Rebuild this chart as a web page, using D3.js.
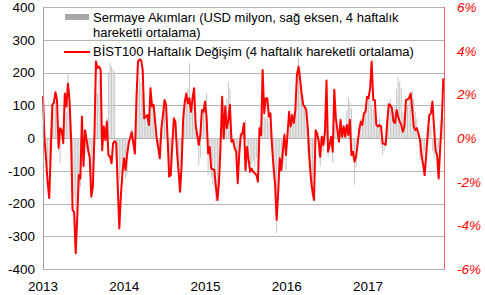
<!DOCTYPE html>
<html>
<head>
<meta charset="utf-8">
<style>
  body { margin: 0; background: #fff; }
  svg { display: block; font-family: "Liberation Sans", Arial, sans-serif; }
</style>
</head>
<body>
<script src="https://d3js.org/d3.v7.min.js"></script>
<script>

var width = 485, height = 295;
var margin = {top: 7, right: 41, bottom: 26, left: 43};

// weekly data, first week starts 2013-01-01
var startDate = new Date(2013, 0, 1);
var endDate = new Date(2017, 11, 8);

// BIST100 weekly change, 4w moving average (%), right axis
var bistChange = [
  1.92, -0.09, -1.01, -2.06, -2.75, -0.60, 1.52, 1.62, 2.10, 1.74,
  -0.45, 0.45, 0.36, -0.23, 2.04, 1.44, 2.48, 1.77, 0.06, -3.30,
  -3.38, -5.28, -3.60, -1.70, -1.85, 0.98, -1.28, 0.36, -0.09, -0.56,
  -0.90, -2.69, -2.24, 0.06, 3.50, 3.20, 3.27, 3.12, -0.56, 0.53,
  -0.09, 0.75, -0.78, -0.86, -1.16, -0.24, -0.14, -0.24, -2.25, -4.14,
  -2.61, -1.62, -0.93, -1.47, -0.75, -0.24, 0.00, 0.26, -0.24, -0.71,
  1.82, 3.50, 3.60, 3.57, 3.12, 0.90, 0.98, 1.05, 0.60, 2.28,
  1.44, 1.52, 0.75, -0.02, -0.45, -0.93, 0.45, 1.05, 1.74, 1.52,
  -0.02, -1.77, -1.70, -0.32, 0.90, 0.75, -0.63, -1.50, -2.46, -1.23,
  0.90, 1.65, 2.04, 1.59, 1.82, 1.20, 1.82, 2.28, 0.60, 0.15,
  -0.32, 0.14, 1.28, 1.20, 1.67, 0.98, -0.71, -0.41, -1.40, -1.43,
  -1.47, -2.24, -2.84, -2.00, -0.32, 1.89, -0.02, 1.44, 0.45, 0.83,
  1.52, -0.17, -0.09, -0.45, -0.63, -2.07, -0.71, 0.14, 0.21, 0.68,
  -1.47, -0.41, -1.01, -1.55, -1.40, -1.55, -1.62, -1.70, -2.00, 0.45,
  0.14, 3.12, 1.13, 1.82, 1.82, 0.98, 1.13, -0.32, -1.32, -2.15,
  -3.75, -2.46, -0.93, -1.47, -0.60, 0.14, -0.78, 0.21, 1.20, 0.53,
  1.05, 0.68, 1.28, 2.88, 3.27, 2.73, 2.04, 1.52, 1.43, 1.28,
  0.45, -0.93, -1.85, -2.46, -2.84, 0.36, 0.21, -0.17, -0.86, 0.06,
  -0.32, 0.29, 2.63, -0.63, -0.32, 0.06, -0.63, 2.21, 0.90, 0.36,
  -0.17, 0.83, 0.06, 0.53, 0.06, 0.60, 0.14, 0.83, -0.78, -0.63,
  -1.08, -0.86, -0.24, 0.36, 0.75, 0.60, 1.13, 1.20, 1.89, 1.82,
  2.28, 3.50, 1.74, 1.74, 0.60, 0.53, 0.60, 0.53, -0.24, -0.27,
  -0.32, 0.75, 1.55, 1.50, 1.37, 0.75, 0.68, 1.28, 0.98, 0.75,
  0.60, 0.29, 0.53, 1.74, 1.77, 1.82, 2.04, 1.37, 0.53, 0.36,
  0.45, 0.21, -0.09, -0.78, -1.20, -1.70, -0.78, 0.21, 1.05, 1.13,
  1.67, 0.53, -0.56, -0.78, -1.85, -0.41, 0.75, 2.73
];

// capital flows, 4w moving average (USD mn)
var flows = [
  40, -20, -60, -90, -70, 30, 90, 100, 110, 80,
  -40, -77, 20, -10, 90, 80, 200, 150, 20, -160,
  -180, -220, -200, -140, -150, 40, -90, 20, -30, -50,
  -60, -120, -110, 10, 150, 137, 180, 217, -40, 30,
  10, 60, 200, 230, 220, 210, 200, -60, -120, -130,
  -110, -90, -60, -122, -110, -40, 20, 30, -20, -30,
  92, 150, 183, 170, 131, 70, 80, 60, 40, 156,
  110, 90, 50, -20, -40, -60, 30, 70, 120, 110,
  10, -90, -100, -30, 50, 40, -40, -80, -120, -70,
  50, 110, 130, 150, 229, 100, 120, 140, 60, 10,
  -82, -60, 60, 80, 110, 137, -113, -60, -120, -140,
  -150, -195, -170, -120, -30, 110, 20, 80, 120, 171,
  150, 20, 10, -20, -40, -100, -50, 20, 30, 40,
  55, -40, -60, -90, -80, -70, -90, -60, -80, 40,
  30, 150, 65, 60, 65, 50, 60, -30, -90, -150,
  -290, -180, -60, -98, -80, 20, -98, 30, 60, 50,
  60, 50, 70, 200, 244, 217, 150, 131, 100, 80,
  -40, -90, -153, -140, -120, -20, 10, -60, -88, -30,
  -40, -20, 90, -60, -30, -20, -77, 90, 40, 20,
  -10, 60, 20, 40, 30, 85, 126, 110, 90, -60,
  -143, -90, -40, 40, 60, 50, 70, 100, 110, 122,
  120, 100, 90, 80, 50, 40, 60, -30, -52, -40,
  -10, 40, 100, 120, 90, 80, 100, 150, 186, 171,
  152, 80, 60, 120, 100, 130, 110, 147, 120, 80,
  60, 20, -67, -50, -60, -40, -37, -20, 30, 40,
  -40, -62, -50, -40, -30, 55, 20, 60
];

var leftTicks = [-400, -300, -200, -100, 0, 100, 200, 300, 400];
var rightTicks = [-6, -4, -2, 0, 2, 4, 6];
var yearTicks = [2013, 2014, 2015, 2016, 2017];

var legendFlows = ["Sermaye Akımları (USD milyon, sağ eksen, 4 haftalık", "hareketli ortalama)"];
var legendBist = "BİST100 Haftalık Değişim (4 haftalık hareketli ortalama)";

var svg = d3.select("body").append("svg")
    .attr("width", width)
    .attr("height", height);

var x = d3.scaleTime()
    .domain([startDate, endDate])
    .range([margin.left, width - margin.right]);

var yLeft = d3.scaleLinear()
    .domain([-400, 400])
    .range([height - margin.bottom, margin.top]);

var yRight = d3.scaleLinear()
    .domain([-6, 6])
    .range([height - margin.bottom, margin.top]);

function weekDate(i) { return d3.timeDay.offset(startDate, 7 * i); }

// gridlines
svg.append("g")
  .selectAll("line")
  .data(leftTicks)
  .enter().append("line")
    .attr("x1", margin.left)
    .attr("x2", width - margin.right)
    .attr("y1", function(d) { return Math.round(yLeft(d)) + 0.5; })
    .attr("y2", function(d) { return Math.round(yLeft(d)) + 0.5; })
    .attr("stroke", "#b4b4b4")
    .attr("stroke-width", 1);

// bars
svg.append("g")
  .selectAll("rect")
  .data(flows)
  .enter().append("rect")
    .attr("x", function(d, i) { return x(weekDate(i)) - 0.5; })
    .attr("width", 1)
    .attr("y", function(d) { return yLeft(Math.max(0, d)); })
    .attr("height", function(d) { return Math.abs(yLeft(d) - yLeft(0)); })
    .attr("fill", "#c6c6c6");

// red line
var line = d3.line()
    .x(function(d, i) { return x(weekDate(i)); })
    .y(function(d) { return yRight(d); });

svg.append("path")
    .datum(bistChange)
    .attr("d", line)
    .attr("fill", "none")
    .attr("stroke", "#ff0000")
    .attr("stroke-width", 2)
    .attr("stroke-linejoin", "round");

// axis lines
svg.append("line")
    .attr("x1", margin.left + 0.5).attr("x2", margin.left + 0.5)
    .attr("y1", margin.top).attr("y2", height - margin.bottom + 0.5)
    .attr("stroke", "#a0a0a0");

svg.append("line")
    .attr("x1", width - margin.right + 0.5).attr("x2", width - margin.right + 0.5)
    .attr("y1", margin.top).attr("y2", height - margin.bottom + 0.5)
    .attr("stroke", "#ff5a5a");

// left tick labels
svg.append("g")
  .selectAll("text")
  .data(leftTicks)
  .enter().append("text")
    .attr("x", 35)
    .attr("y", function(d) { return yLeft(d); })
    .attr("dy", "0.36em")
    .attr("text-anchor", "end")
    .attr("font-size", "13.5px")
    .attr("fill", "#000")
    .text(function(d) { return d; });

// right tick labels
svg.append("g")
  .selectAll("text")
  .data(rightTicks)
  .enter().append("text")
    .attr("x", 457)
    .attr("y", function(d) { return yRight(d); })
    .attr("dy", "0.36em")
    .attr("font-size", "13.5px")
    .attr("font-style", "italic")
    .attr("fill", "#ff0000")
    .text(function(d) { return d + "%"; });

// year labels
svg.append("g")
  .selectAll("text")
  .data(yearTicks)
  .enter().append("text")
    .attr("x", function(d) { return x(new Date(d, 0, 1)); })
    .attr("y", 291)
    .attr("text-anchor", "middle")
    .attr("font-size", "13.5px")
    .attr("fill", "#000")
    .text(function(d) { return d; });

// legend
var legend = svg.append("g").attr("font-size", "13px").attr("fill", "#000");

legend.append("rect")
    .attr("x", 65).attr("y", 14)
    .attr("width", 24).attr("height", 6)
    .attr("fill", "#a8a8a8");

legend.selectAll("text.flows")
  .data(legendFlows)
  .enter().append("text")
    .attr("class", "flows")
    .attr("x", 93)
    .attr("y", function(d, i) { return 22 + i * 15; })
    .text(function(d) { return d; });

legend.append("line")
    .attr("x1", 64).attr("x2", 90)
    .attr("y1", 52).attr("y2", 52)
    .attr("stroke", "#ff0000")
    .attr("stroke-width", 2);

legend.append("text")
    .attr("x", 93)
    .attr("y", 56)
    .text(legendBist);

</script>
</body>
</html>
